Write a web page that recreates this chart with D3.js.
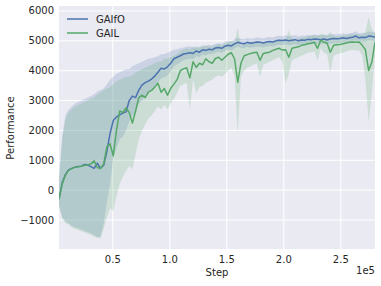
<!DOCTYPE html>
<html><head><meta charset="utf-8">
<script src="https://cdn.jsdelivr.net/npm/d3@7"></script>
<style>body{margin:0;background:#fff}svg text{font-family:"DejaVu Sans",sans-serif}</style>
</head><body><svg id="c" width="381" height="286"></svg>
<script>
const stepSize = 2800;
const gaifoMean = [-300,250,520,680,730,770,790,800,860,840,790,730,900,740,830,1300,1900,2330,2450,2520,
2580,2620,3000,3150,3100,3350,3520,3600,3650,3720,3820,3950,4080,4060,4130,4250,4400,4450,4500,4560,
4580,4600,4580,4660,4620,4700,4680,4720,4700,4760,4780,4750,4820,4850,4830,4900,4950,4920,4900,4950,
4920,4940,4960,4950,4930,4960,4980,4960,5000,5020,5010,5030,5000,5020,5040,5000,5030,5020,5050,5040,
5060,5050,5040,5060,5030,5060,5080,5070,5080,5100,5080,5100,5120,5160,5100,5120,5110,5160,5150,5120];
const gaifoUpper = [400,1800,2500,2700,2800,2900,2950,3000,3050,3100,3150,3200,3300,3350,3400,3550,3700,3800,3900,3950,
4000,4050,4050,4150,4200,4250,4300,4350,4400,4420,4450,4480,4550,4550,4600,4650,4700,4720,4750,4780,
4800,4820,4780,4820,4780,4850,4830,4870,4850,4900,4920,4900,4970,5000,4980,5050,5100,5070,5050,5100,
5070,5090,5110,5100,5080,5110,5130,5110,5150,5170,5160,5180,5150,5170,5190,5150,5180,5170,5200,5190,
5210,5200,5190,5210,5180,5210,5230,5220,5230,5250,5230,5250,5270,5320,5250,5270,5260,5310,5300,5270];
const gaifoLower = [-500,-900,-1050,-1100,-1200,-1240,-1280,-1320,-1360,-1400,-1440,-1500,-1570,-1550,-1100,-400,200,1100,1400,1700,
1800,2000,2300,2500,2600,2900,3000,3150,3250,3350,3450,3600,3750,3780,3850,3980,4150,4220,4280,4350,
4380,4400,4380,4480,4450,4540,4520,4570,4550,4610,4630,4600,4670,4700,4680,4750,4800,4770,4750,4800,
4770,4790,4810,4800,4780,4810,4830,4810,4850,4870,4860,4880,4850,4870,4890,4850,4880,4870,4900,4890,
4910,4900,4890,4910,4880,4910,4930,4920,4930,4950,4930,4950,4970,5000,4950,4970,4960,5010,5000,4970];
const gailMean = [-300,200,500,660,720,770,780,800,830,840,880,980,760,720,880,1450,1550,1150,2000,2650,
2600,2750,2600,2250,2650,3100,3180,3100,3280,3340,3450,3580,3280,3400,3180,3410,3550,3700,4000,4060,
4100,3760,4300,4110,4250,4200,4400,4300,4250,4410,4450,4350,4450,4550,4600,4400,3610,4250,4500,4540,
4580,4600,4620,4350,4580,4600,4620,4680,4720,4750,4690,4700,4450,4750,4780,4800,4850,4870,4900,4920,
4950,4750,5020,4960,4920,4620,4850,4870,4880,4900,4930,4950,4960,4950,4960,4850,4700,4010,4280,4950];
const gailUpper = [300,1700,2350,2600,2700,2800,2850,2900,2950,3000,3050,3100,3200,3250,3350,3400,3450,3550,3650,3700,
3750,3800,3800,3850,3950,4000,4050,4100,4150,4200,4250,4300,4300,4400,4400,4450,4500,4550,4650,4700,
4750,4700,4800,4750,4800,4800,4850,4800,4800,4850,4900,4850,4900,4950,5000,4950,5450,4800,4900,4920,
4950,4950,4970,4900,4950,4970,4980,5000,5030,5050,5020,5050,5350,5050,5070,5080,5100,5120,5150,5170,
5200,5150,5250,5200,5200,5300,5150,5150,5160,5180,5200,5220,5230,5220,5230,5200,5300,5800,5400,5250];
const gailLower = [-550,-950,-1100,-1150,-1250,-1300,-1340,-1380,-1420,-1460,-1500,-1550,-1600,-1620,-1300,-900,-600,-700,-200,200,
450,650,800,700,1200,1700,2000,2200,2400,2500,2650,2800,2700,2850,2700,2900,3050,3250,3500,3550,
3600,2700,3700,3250,3450,3500,3600,3650,3700,3800,3850,3800,3900,4000,4100,3800,1900,3800,4000,4100,
4150,4200,4250,3780,4200,4250,4300,4350,4400,4450,4300,3580,3900,4350,4400,4450,4500,4550,4600,4620,
4650,4350,4750,4600,4550,3950,4500,4550,4580,4600,4650,4680,4700,4680,4680,4500,3700,2270,3240,4600];
const yTicks = [-1000,0,1000,2000,3000,4000,5000,6000];
const xTicks = [50000,100000,150000,200000,250000];
const xTickLabels = ["0.5","1.0","1.5","2.0","2.5"];
const seriesNames = ["GAIfO","GAIL"];
const colors = ["#4C72B0","#55A868"];

const steps = gaifoMean.map((d,i)=>stepSize*(i+1));
const L=59,R=375,T=6,B=249;
const svg=d3.select("#c");
const x=d3.scaleLinear().domain([2800,280000]).range([L,R]);
const y=d3.scaleLinear().domain([-1971,6167]).range([B,T]);
svg.append("rect").attr("x",L).attr("y",T).attr("width",R-L).attr("height",B-T).attr("fill","#EAEAF2");
svg.append("clipPath").attr("id","clip").append("rect").attr("x",L).attr("y",T).attr("width",R-L).attr("height",B-T);
const g=svg.append("g");
g.selectAll(".gx").data(xTicks).join("line").attr("x1",d=>x(d)).attr("x2",d=>x(d)).attr("y1",T).attr("y2",B).attr("stroke","#fff").attr("stroke-width",1);
g.selectAll(".gy").data(yTicks).join("line").attr("class","gy").attr("y1",d=>y(d)).attr("y2",d=>y(d)).attr("x1",L).attr("x2",R).attr("stroke","#fff").attr("stroke-width",1);
const plot=svg.append("g").attr("clip-path","url(#clip)");
const series=[{m:gaifoMean,u:gaifoUpper,l:gaifoLower},{m:gailMean,u:gailUpper,l:gailLower}];
series.forEach((s,k)=>{
  const area=d3.area().x((d,i)=>x(steps[i])).y0((d,i)=>y(s.l[i])).y1((d,i)=>y(s.u[i]));
  plot.append("path").datum(s.m).attr("d",area).attr("fill",colors[k]).attr("fill-opacity",0.2);
});
series.forEach((s,k)=>{
  const line=d3.line().x((d,i)=>x(steps[i])).y(d=>y(d));
  plot.append("path").datum(s.m).attr("d",line).attr("fill","none").attr("stroke",colors[k]).attr("stroke-width",1.5).attr("stroke-linejoin","round");
});
svg.selectAll(".yt").data(yTicks).join("text").attr("x",54).attr("y",d=>y(d)).attr("dy","0.35em").attr("text-anchor","end").attr("font-size",10).attr("fill","#262626").text(d=>d<0?"\u2212"+Math.abs(d):d);
svg.selectAll(".xt").data(xTicks).join("text").attr("x",d=>x(d)).attr("y",263).attr("text-anchor","middle").attr("font-size",10).attr("fill","#262626").text((d,i)=>xTickLabels[i]);
svg.append("text").attr("x",375).attr("y",274).attr("text-anchor","end").attr("font-size",10).attr("fill","#262626").text("1e5");
svg.append("text").attr("x",217).attr("y",276).attr("text-anchor","middle").attr("font-size",10).attr("fill","#262626").text("Step");
svg.append("text").attr("transform","translate(14,128) rotate(-90)").attr("text-anchor","middle").attr("font-size",10).attr("fill","#262626").text("Performance");
const lg=svg.append("g");
seriesNames.forEach((n,k)=>{
  const yy=19+k*14;
  lg.append("line").attr("x1",67).attr("x2",88).attr("y1",yy).attr("y2",yy).attr("stroke",colors[k]).attr("stroke-width",1.5);
  lg.append("text").attr("x",96).attr("y",yy).attr("dy","0.35em").attr("font-size",10).attr("fill","#262626").text(n);
});
</script></body></html>
